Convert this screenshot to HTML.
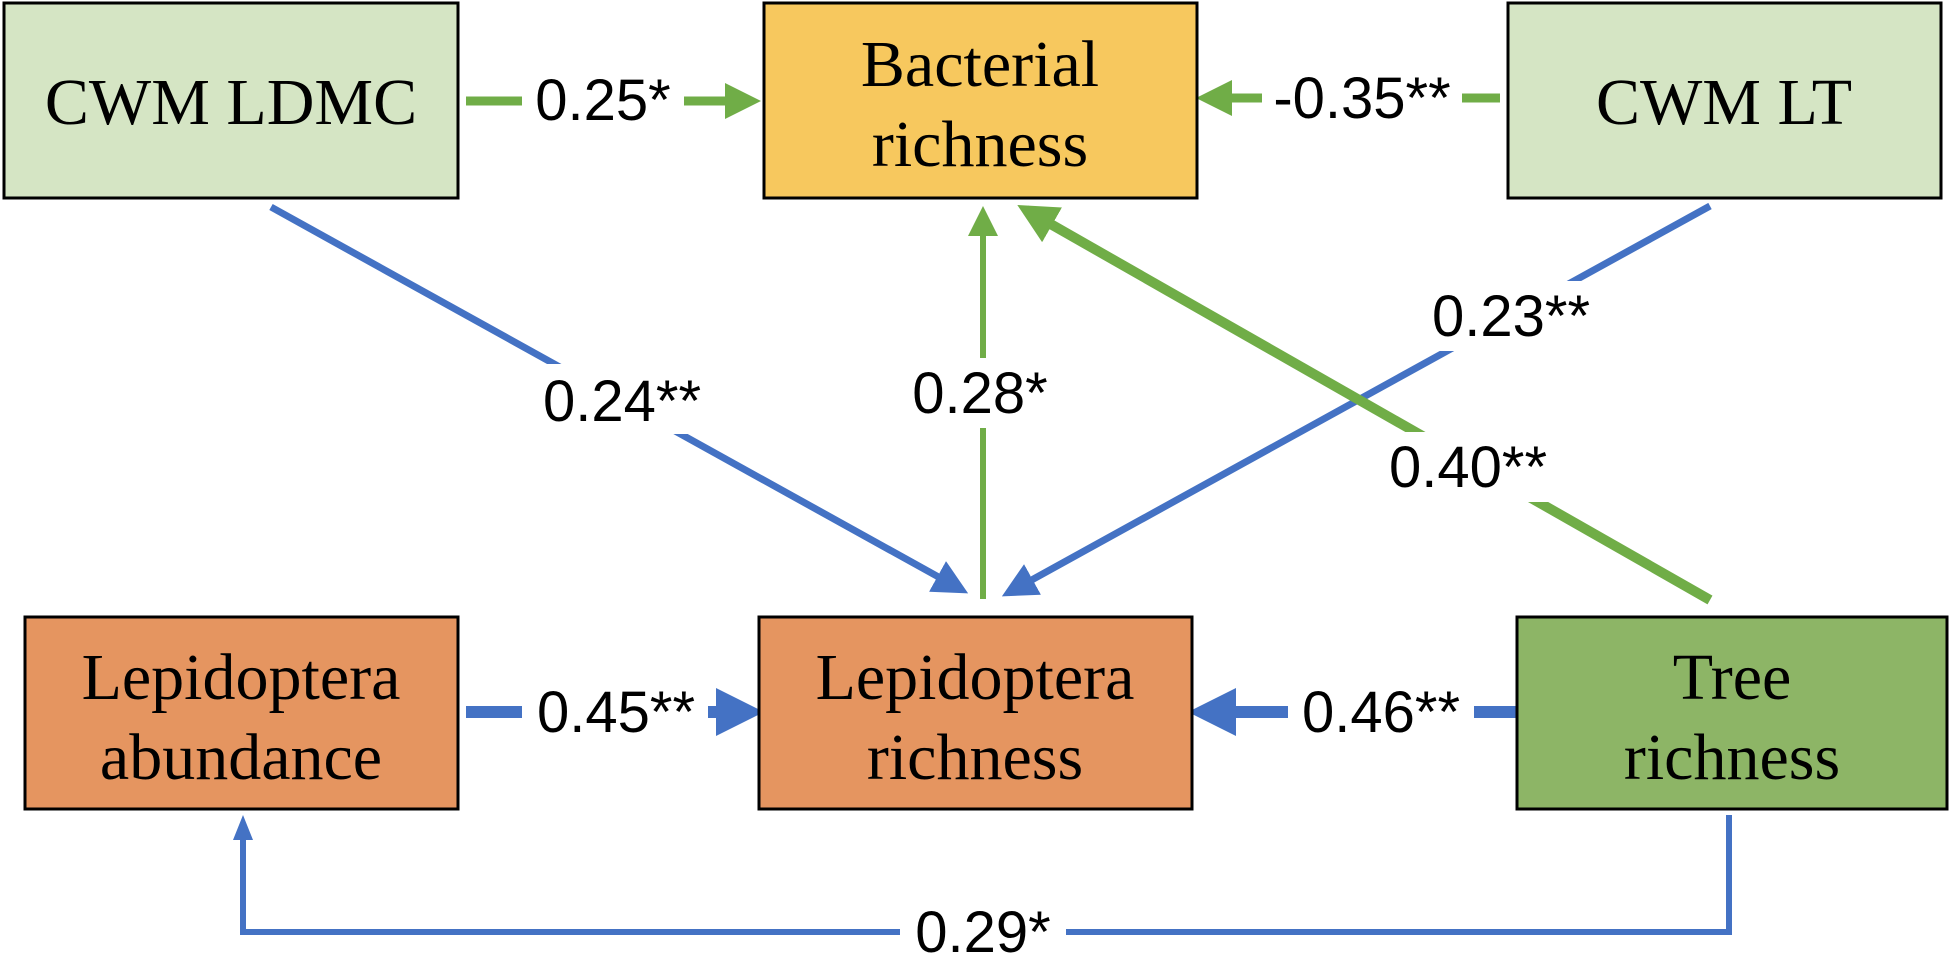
<!DOCTYPE html>
<html><head><meta charset="utf-8"><style>
html,body{margin:0;padding:0;background:#fff;}
svg{display:block;}
.b{font-family:"Liberation Serif",serif;font-size:66px;fill:#000;text-anchor:middle;}
.l{font-family:"Liberation Sans",sans-serif;font-size:58px;fill:#000;text-anchor:middle;}
</style></head><body>
<svg width="1951" height="963" viewBox="0 0 1951 963" xmlns="http://www.w3.org/2000/svg">
<defs>
<marker id="ag" markerWidth="4" markerHeight="4" refX="3" refY="2" orient="auto" markerUnits="strokeWidth"><path d="M0,0 L4,2 L0,4 z" fill="#70ad47"/></marker>
<marker id="ab" markerWidth="4" markerHeight="4" refX="3" refY="2" orient="auto" markerUnits="strokeWidth"><path d="M0,0 L4,2 L0,4 z" fill="#4472c4"/></marker>
<marker id="ag2" markerWidth="5" markerHeight="5" refX="4" refY="2.5" orient="auto" markerUnits="strokeWidth"><path d="M0,0 L5,2.5 L0,5 z" fill="#70ad47"/></marker>
<marker id="ab2" markerWidth="5" markerHeight="5" refX="4" refY="2.5" orient="auto" markerUnits="strokeWidth"><path d="M0,0 L5,2.5 L0,5 z" fill="#4472c4"/></marker>
</defs>
<line x1="466" y1="101" x2="752" y2="101" stroke="#70ad47" stroke-width="9" marker-end="url(#ag)"/>
<line x1="1500" y1="98" x2="1205" y2="98" stroke="#70ad47" stroke-width="9" marker-end="url(#ag)"/>
<line x1="271" y1="207" x2="962" y2="590" stroke="#4472c4" stroke-width="7" marker-end="url(#ab2)"/>
<line x1="983" y1="599" x2="983" y2="212" stroke="#70ad47" stroke-width="6" marker-end="url(#ag2)"/>
<line x1="1710" y1="206" x2="1008" y2="593" stroke="#4472c4" stroke-width="7" marker-end="url(#ab2)"/>
<line x1="1710" y1="600" x2="1026" y2="210" stroke="#70ad47" stroke-width="10" marker-end="url(#ag)"/>
<line x1="466" y1="712" x2="752" y2="712" stroke="#4472c4" stroke-width="12" marker-end="url(#ab)"/>
<line x1="1517" y1="712" x2="1200" y2="712" stroke="#4472c4" stroke-width="12" marker-end="url(#ab)"/>
<polyline points="1729,815 1729,932 243,932 243,828" fill="none" stroke="#4472c4" stroke-width="6"/>
<path d="M243,815 L233,840 L253,840 z" fill="#4472c4"/>
<g>
<rect x="522" y="68" width="162" height="64" fill="#fff"/><text class="l" x="603" y="120">0.25*</text>
<rect x="1262" y="66" width="200" height="64" fill="#fff"/><text class="l" x="1362" y="118">-0.35**</text>
<rect x="520" y="364" width="205" height="70" fill="#fff"/><text class="l" x="622" y="421">0.24**</text>
<rect x="898" y="358" width="164" height="70" fill="#fff"/><text class="l" x="980" y="413">0.28*</text>
<rect x="1410" y="281" width="205" height="70" fill="#fff"/><text class="l" x="1511" y="336">0.23**</text>
<rect x="1366" y="432" width="205" height="70" fill="#fff"/><text class="l" x="1468" y="487">0.40**</text>
<rect x="522" y="680" width="186" height="64" fill="#fff"/><text class="l" x="616" y="732">0.45**</text>
<rect x="1288" y="680" width="186" height="64" fill="#fff"/><text class="l" x="1381" y="732">0.46**</text>
<rect x="900" y="900" width="166" height="63" fill="#fff"/><text class="l" x="983" y="952">0.29*</text>
</g>
<rect x="4" y="3" width="454" height="195" fill="#d5e5c4" stroke="#000" stroke-width="3"/>
<text class="b" x="231" y="124">CWM LDMC</text>
<rect x="764" y="3" width="433" height="195" fill="#f7c85e" stroke="#000" stroke-width="3"/>
<text class="b" x="980" y="86">Bacterial</text><text class="b" x="980" y="166">richness</text>
<rect x="1508" y="3" width="433" height="195" fill="#d5e5c4" stroke="#000" stroke-width="3"/>
<text class="b" x="1724" y="124">CWM LT</text>
<rect x="25" y="617" width="433" height="192" fill="#e59560" stroke="#000" stroke-width="3"/>
<text class="b" x="241" y="699">Lepidoptera</text><text class="b" x="241" y="779">abundance</text>
<rect x="759" y="617" width="433" height="192" fill="#e59560" stroke="#000" stroke-width="3"/>
<text class="b" x="975" y="699">Lepidoptera</text><text class="b" x="975" y="779">richness</text>
<rect x="1517" y="617" width="430" height="192" fill="#8db566" stroke="#000" stroke-width="3"/>
<text class="b" x="1732" y="699">Tree</text><text class="b" x="1732" y="779">richness</text>
</svg>
</body></html>
